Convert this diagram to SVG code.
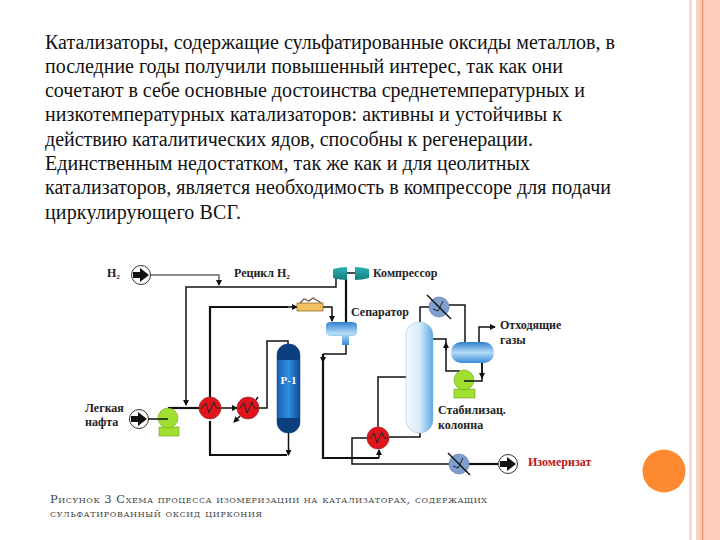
<svg xmlns="http://www.w3.org/2000/svg" width="720" height="540" viewBox="0 0 720 540">
<style>
.body{font-family:"Liberation Serif","DejaVu Serif",serif;font-size:20px;fill:#111}
.cap{font-family:"DejaVu Serif","Liberation Serif",serif;font-size:11.5px;font-variant:small-caps;fill:#444}
.lb{font-family:"Liberation Serif",serif;font-size:12px;font-weight:bold;fill:#222}
.k{fill:none;stroke:#111;stroke-width:1.5}
.t{fill:none;stroke:#111;stroke-width:2.2}
.g{fill:none;stroke:#666;stroke-width:1.5}
.red{fill:#e0141c;stroke:#8a2020;stroke-width:.6}
.blue{fill:#7f9fd0;stroke:#5070a0;stroke-width:.6}
.z{fill:none;stroke:#222;stroke-width:1}
.pump{fill:#9fe030;stroke:#70a020;stroke-width:.6}
</style>
<defs>
<marker id="a" markerWidth="6" markerHeight="6" refX="5" refY="3" orient="auto" markerUnits="userSpaceOnUse"><path d="M0 0L6 3L0 6Z" fill="#111"/></marker>
<linearGradient id="col" x1="0" x2="1" y1="0" y2="0"><stop offset="0" stop-color="#f4f8ff"/><stop offset=".5" stop-color="#d8ecfb"/><stop offset="1" stop-color="#5aa8e4"/></linearGradient>
<linearGradient id="drum" x1="0" x2="0" y1="0" y2="1"><stop offset="0" stop-color="#2f80d0"/><stop offset=".5" stop-color="#b4dcf6"/><stop offset="1" stop-color="#3a8ad8"/></linearGradient>
<linearGradient id="rea" x1="0" x2="1" y1="0" y2="0"><stop offset="0" stop-color="#1860b0"/><stop offset=".5" stop-color="#2f8ee0"/><stop offset="1" stop-color="#0e4c98"/></linearGradient>
<linearGradient id="comp" x1="0" x2="0" y1="0" y2="1"><stop offset="0" stop-color="#30b0b0"/><stop offset="1" stop-color="#108080"/></linearGradient>
</defs>
<rect width="720" height="540" fill="#fff"/>
<g id="border">
<rect x="689" width="3" height="540" fill="#f3dccb"/>
<rect x="696" width="3" height="540" fill="#f3d5c0"/>
<rect x="699" width="21" height="540" fill="#ffcdbb"/>
<rect x="702" width="1.2" height="540" fill="#f0906c"/>
<circle cx="664" cy="471" r="21.5" fill="#fd8a30"/>
</g>
<g id="body-text" class="body">
<text x="45" y="49" textLength="570">Катализаторы, содержащие сульфатированные оксиды металлов, в</text>
<text x="45" y="73" textLength="518">последние годы получили повышенный интерес, так как они</text>
<text x="45" y="97" textLength="540">сочетают в себе основные достоинства среднетемпературных и</text>
<text x="45" y="121" textLength="517">низкотемпературных катализаторов: активны и устойчивы к</text>
<text x="45" y="146" textLength="488">действию каталитических ядов, способны к регенерации.</text>
<text x="45" y="170" textLength="485">Единственным недостатком, так же как и для цеолитных</text>
<text x="45" y="194" textLength="566">катализаторов, является необходимость в компрессоре для подачи</text>
<text x="45" y="219" textLength="196">циркулирующего ВСГ.</text>
</g>
<g id="connectors">
<path class="g" d="M150 275H219V285" marker-end="url(#a)"/>
<path class="k" d="M336 278V287H186V405" marker-end="url(#a)"/>
<path class="t" d="M168 408H199"/>
<path class="k" d="M221 408H237" marker-end="url(#a)"/>
<path class="k" d="M259 408H267V341H288V344"/>
<path class="t" d="M210 397V307H288"/>
<path class="k" d="M288 307H297" marker-end="url(#a)"/>
<path class="t" d="M210 421V455H287"/>
<path class="k" d="M288.500 433V455" marker-end="url(#a)"/>
<path class="k" d="M323 307H332V321" marker-end="url(#a)"/>
<path class="t" d="M346 323V278"/>
<path class="k" d="M347 273H355"/>
<path class="k" d="M346 345V354H323"/>
<path class="t" d="M323 354V458H379"/>
<path class="k" d="M323 354V362" marker-end="url(#a)"/>
<path class="k" d="M379 458V450" marker-end="url(#a)"/>
<path class="k" d="M378 427V377H407"/>
<path class="k" d="M389 437H420V433"/>
<path class="k" d="M367 438H352V464H449"/>
<path class="t" d="M469 464H498"/>
<path class="k" d="M420 322V307H430"/>
<path class="k" d="M449 305H465V342"/>
<path class="k" d="M479 342V327H495" marker-end="url(#a)"/>
<path class="k" d="M482 363V381H474"/>
<path class="k" d="M482 363V378" marker-end="url(#a)"/>
<path class="k" d="M433 339H446V371H460"/>
<path class="k" d="M446 350V343" marker-end="url(#a)"/>
</g>
<g id="h2-in"><circle cx="141" cy="275" r="9.500" fill="#fff" stroke="#333"/><path d="M133 272H140V268L149 275L140 282V278H133Z" fill="#111"/><text class="lb" x="107" y="277">Н₂</text></g>
<g id="naphtha-in"><circle cx="139" cy="419" r="9.500" fill="#fff" stroke="#333"/><path d="M131 416H138V412L147 419L138 426V422H131Z" fill="#111"/><text class="lb" x="85" y="412">Легкая</text><text class="lb" x="85" y="426">нафта</text></g>
<g id="pump-1"><rect x="159" y="427" width="20" height="9" class="pump"/><circle cx="168" cy="418" r="10" class="pump"/><path class="k" d="M148 419H168"/></g>
<g id="exchanger-1"><circle cx="210" cy="408" r="11" class="red"/><path class="z" d="M201 409L206 403L209 413L214 402L216 408H220"/></g>
<g id="exchanger-2"><circle cx="248" cy="408" r="11" class="red"/><path class="z" d="M239 409L244 403L247 413L252 402L254 408H258"/><path class="k" d="M258 397L256 400M240 416L234 422" stroke-width="1" marker-end="url(#a)"/></g>
<g id="reactor"><rect x="277" y="344" width="23" height="89" rx="11" fill="url(#rea)" stroke="#0e3f80" stroke-width=".5"/><path d="M277 360V355A11.500 11 0 0 1 300 355V360Z" fill="#0c3f80"/><path d="M277 418V422A11.500 11 0 0 0 300 422V418Z" fill="#0c3f80"/><text x="288.500" y="384" text-anchor="middle" font-family="Liberation Serif,serif" font-size="11" font-weight="bold" fill="#fff">Р-1</text></g>
<g id="furnace"><rect x="297" y="303" width="26" height="8" fill="#f2c060" stroke="#806020" stroke-width=".7"/><path d="M300 303L304 299L309 301L313 298L318 301L321 303" fill="none" stroke="#654" stroke-width="1.200"/></g>
<g id="compressor"><path d="M333 269Q340 267 347 267V280Q340 280 333 278Z" fill="url(#comp)"/><path d="M355 267Q362 267 369 269V278Q362 280 355 280Z" fill="url(#comp)"/><text class="lb" x="373" y="277">Компрессор</text></g>
<text class="lb" x="234" y="277">Рецикл Н₂</text>
<g id="separator"><path d="M326 325Q326 322 332 322H351Q357 322 357 325V333Q357 336 351 336H349V345H342V336H332Q326 336 326 333Z" fill="url(#drum)"/><text class="lb" x="351" y="316">Сепаратор</text></g>
<g id="column"><rect x="406" y="322" width="27" height="111" rx="13" fill="url(#col)" stroke="#9bc" stroke-width=".5"/><text class="lb" x="438" y="414">Стабилизац.</text><text class="lb" x="438" y="429">колонна</text></g>
<g id="condenser"><circle cx="439" cy="307" r="10" class="blue"/><path class="z" d="M433 309L438 311L443 301"/><path class="k" d="M427 295L451 319" stroke-width="1"/></g>
<g id="drum-1"><rect x="451" y="342" width="43" height="21" rx="10" fill="url(#drum)"/><text class="lb" x="500" y="329">Отходящие</text><text class="lb" x="500" y="344">газы</text></g>
<g id="pump-2"><rect x="454" y="389" width="21" height="9" class="pump"/><circle cx="464" cy="380" r="10" class="pump"/><path class="k" d="M474 381H464"/></g>
<g id="exchanger-3"><circle cx="378" cy="438" r="11" class="red"/><path class="z" d="M369 439L374 433L377 443L382 432L384 438H388"/></g>
<g id="cooler"><circle cx="459" cy="464" r="10" class="blue"/><path class="z" d="M453 466L458 468L463 458"/><path class="k" d="M448 453L470 475" stroke-width="1"/></g>
<g id="product"><circle cx="508" cy="464" r="9.500" fill="#fff" stroke="#333"/><path d="M500 461H507V457L516 464L507 471V467H500Z" fill="#111"/><text x="528" y="466" font-family="Liberation Serif,serif" font-size="12" font-weight="bold" fill="#c01818">Изомеризат</text></g>
<g id="caption" class="cap">
<text x="50" y="503" textLength="437">Рисунок 3 Схема процесса изомеризации на катализаторах, содержащих</text>
<text x="50" y="517" textLength="212">сульфатированный оксид циркония</text>
</g>
</svg>
